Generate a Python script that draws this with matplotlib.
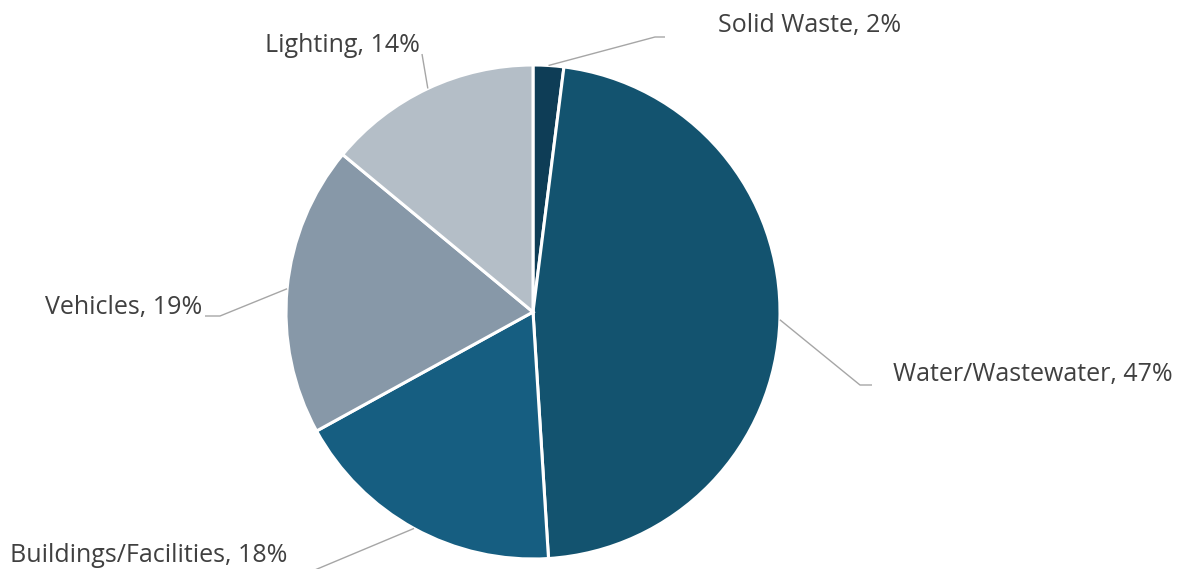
import numpy as np
import matplotlib
matplotlib.use('Agg')
import matplotlib.pyplot as plt

# data
categories = ["Solid Waste", "Water/Wastewater", "Buildings/Facilities", "Vehicles", "Lighting"]
values = [2, 47, 18, 19, 14]
colors = ["#0e3d56", "#13536f", "#165e81", "#8798a8", "#b4bec7"]

W, H = 1184, 569
fig = plt.figure(figsize=(W / 100, H / 100), dpi=100)
ax = fig.add_axes([0, 0, 1, 1])

cx, cy, R = 533, H - 312, 247
wedges, _ = ax.pie(values, colors=colors, startangle=90, counterclock=False,
                   center=(cx, cy), radius=R, frame=True,
                   wedgeprops=dict(edgecolor='white', linewidth=2.2))
ax.set_xlim(0, W)
ax.set_ylim(0, H)
ax.set_aspect('equal')
ax.axis('off')

# label layout (pixel coords from top): elbow, line end, text anchor, alignment
layout = [
    ((655, 37), (665, 37), (718, 25), 'left'),
    ((860, 385), (872, 385), (893, 375), 'left'),
    ((310, 572), (310, 572), (10, 556), 'left'),
    ((220, 316), (205, 316), (202, 307), 'right'),
    ((422, 54), (422, 54), (342, 45), 'center'),
]

font = ['Open Sans', 'DejaVu Sans']
for w, cat, val, (elb, end, txt, ha) in zip(wedges, categories, values, layout):
    mid = np.deg2rad((w.theta1 + w.theta2) / 2)
    sx, sy = cx + R * np.cos(mid), cy + R * np.sin(mid)
    ax.plot([sx, elb[0], end[0]], [sy, H - elb[1], H - end[1]],
            color='#a6a6a6', lw=1.0, solid_capstyle='butt', clip_on=False)
    ax.text(txt[0], H - txt[1], f"{cat}, {val}%", ha=ha, va='center',
            fontsize=18, color='#404040', family=font)

fig.savefig("out.png", dpi=100)
